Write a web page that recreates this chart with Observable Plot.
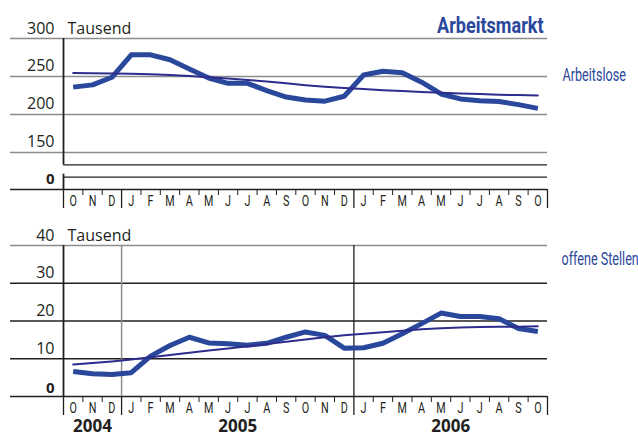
<!DOCTYPE html>
<html>
<head>
<meta charset="utf-8">
<script src="https://cdn.jsdelivr.net/npm/d3@7"></script>
<script src="https://cdn.jsdelivr.net/npm/@observablehq/plot@0.6"></script>
<style>
  body { margin: 0; background: #fff; width: 638px; height: 432px; overflow: hidden; }
  #chart svg { display: block; }
</style>
</head>
<body>
<div id="chart"></div>
<script>
// ---- data ----
const months = ["O","N","D","J","F","M","A","M","J","J","A","S","O","N","D","J","F","M","A","M","J","J","A","S","O"];
const startYear = 2004, startMonth = 9; // October 2004
const arbeitslose      = [236, 239, 249, 278.5, 278.5, 272, 260, 248, 241, 241, 231.5, 223, 219, 217.5, 224, 252, 257, 255, 242.5, 227, 220.5, 218, 217, 213, 208];
const arbeitsloseTrend = [254.5, 254.3, 254, 253.5, 253, 252, 250.5, 249, 247.5, 245.5, 243.5, 241, 238.5, 236.5, 235, 233.5, 232, 231, 229.5, 228.5, 227.5, 227, 226, 225.5, 225];
const offeneStellen      = [6.6, 6.0, 5.8, 6.3, 10.7, 13.5, 15.7, 14.2, 14.0, 13.6, 14.1, 15.7, 17.1, 16.2, 12.8, 12.9, 14.1, 16.6, 19.3, 22.1, 21.2, 21.2, 20.6, 18.0, 17.2];
const offeneStellenTrend = [8.5, 8.9, 9.3, 9.8, 10.4, 11.0, 11.6, 12.2, 12.7, 13.3, 13.9, 14.5, 15.1, 15.7, 16.2, 16.6, 17.0, 17.4, 17.8, 18.1, 18.3, 18.4, 18.5, 18.5, 18.6];
const topTicks = [150, 200, 250, 300];
const topBreak = [50, 100];          // axis-break lines inside the compressed 0..150 segment
const bottomTicks = [0, 10, 20, 30, 40];
const title = "Arbeitsmarkt";
const unit = "Tausend";
const labelTop = "Arbeitslose";
const labelBottom = "offene Stellen";

// ---- derived ----
const idx = d3.range(months.length);
const yearOf = i => startYear + Math.floor((startMonth + i) / 12);
const yearGroups = d3.groups(idx, yearOf).map(([y, is]) => ({year: String(y), center: d3.mean(is), first: is[0]}));
const innerBounds = yearGroups.slice(1).map(g => g.first - 0.5);
const allBounds = d3.range(-0.5, months.length, 1);
const longBounds = [-0.5, ...innerBounds, months.length - 0.5];
const shortBounds = allBounds.filter(b => !longBounds.includes(b));

// broken axis: values below 150 are compressed
const breakAt = 150, squeeze = 0.3246;
const compress = v => v >= breakAt ? v : breakAt - (breakAt - v) * squeeze;

const ink = "#231f20";
const grey = "#8c8c8c";
const blue = "#29479b";
const navy = "#2e2c8c";
const numFont = "'Open Sans', 'Liberation Sans', sans-serif";
const condFont = "Roboto, 'Liberation Sans', sans-serif";

const W = 638, mL = 63, mR = 91;

function monthAxis() {
  return [
    Plot.axisX({ticks: shortBounds, tickSize: 6, tickFormat: () => "", label: null, stroke: ink, strokeWidth: 1}),
    Plot.axisX({ticks: longBounds, tickSize: 19, tickFormat: () => "", label: null, stroke: ink, strokeWidth: 1.3}),
    Plot.text(idx, {x: d => d, text: d => months[d], frameAnchor: "bottom", lineAnchor: "top", dy: 6,
      fontSize: 15, fontFamily: condFont, fill: ink, ariaDescription: "month-label"})
  ];
}

const lineRow = (vals) => vals.map((v, i) => ({i, v}));

// ---- top panel ----
const topPlot = Plot.plot({
  width: W, height: 210,
  marginLeft: mL, marginRight: mR, marginTop: 38, marginBottom: 21,
  x: {domain: [-0.5, months.length - 0.5], axis: null, label: null},
  y: {domain: [compress(0), 300], transform: compress, axis: null, label: null},
  style: {overflow: "visible", background: "transparent"},
  marks: [
    Plot.ruleY(topTicks, {stroke: grey, strokeWidth: 1.6, insetLeft: -53}),
    Plot.ruleY(topBreak, {stroke: ink, strokeWidth: 1.3}),
    Plot.ruleY([0], {stroke: ink, strokeWidth: 1.3, insetLeft: -53}),
    Plot.ruleX([-0.5], {y1: 100, y2: 300, stroke: ink, strokeWidth: 1.8}),
    Plot.ruleX([-0.5], {y1: 0, y2: 62, stroke: ink, strokeWidth: 1.8}),
    ...monthAxis(),
    Plot.text(topTicks, {y: d => d, text: d => String(d), frameAnchor: "left", textAnchor: "end", lineAnchor: "bottom",
      dx: -9, dy: -5, fontSize: 16, fontFamily: numFont, fill: ink}),
    Plot.text([0], {y: d => d, text: d => String(d), frameAnchor: "left", textAnchor: "end", lineAnchor: "bottom",
      dx: -9, dy: -6, fontSize: 15, fontWeight: "bold", fontFamily: numFont, fill: ink}),
    Plot.text([300], {y: d => d, text: () => unit, frameAnchor: "left", textAnchor: "start", lineAnchor: "bottom",
      dx: 4, dy: -5, fontSize: 16, fontFamily: numFont, fill: ink}),
    Plot.text([title], {frameAnchor: "top-right", textAnchor: "end", lineAnchor: "bottom", dx: -4, dy: -6,
      fontSize: 21.5, fontWeight: "bold", fontFamily: condFont, fill: blue, ariaDescription: "title"}),
    Plot.text([250], {y: d => d, text: () => labelTop, frameAnchor: "right", textAnchor: "start", lineAnchor: "middle",
      dx: 15, dy: -1, fontSize: 18, fontFamily: condFont, fill: blue, ariaDescription: "series-label"}),
    Plot.line(lineRow(arbeitslose), {x: "i", y: "v", stroke: blue, strokeWidth: 5, strokeLinejoin: "round", strokeLinecap: "butt"}),
    Plot.line(lineRow(arbeitsloseTrend), {x: "i", y: "v", stroke: navy, strokeWidth: 2})
  ]
});

// ---- bottom panel ----
const bottomPlot = Plot.plot({
  width: W, height: 222,
  marginLeft: mL, marginRight: mR, marginTop: 35, marginBottom: 36,
  x: {domain: [-0.5, months.length - 0.5], axis: null, label: null},
  y: {domain: [0, 40], axis: null, label: null},
  style: {overflow: "visible", background: "transparent"},
  marks: [
    Plot.ruleY(bottomTicks.filter(d => d !== 40), {stroke: ink, strokeWidth: 1.3, insetLeft: -53}),
    Plot.ruleY([40], {stroke: grey, strokeWidth: 1.6, insetLeft: -53}),
    Plot.ruleX([innerBounds[0]], {stroke: grey, strokeWidth: 1.5}),
    Plot.ruleX(innerBounds.slice(1), {stroke: ink, strokeWidth: 1.3}),
    Plot.ruleX([-0.5], {stroke: ink, strokeWidth: 1.8}),
    ...monthAxis(),
    Plot.text(yearGroups, {x: "center", text: "year", frameAnchor: "bottom", lineAnchor: "bottom", dy: 35,
      fontSize: 17, fontWeight: "bold", fontFamily: numFont, fill: ink}),
    Plot.text(bottomTicks.filter(d => d !== 0), {y: d => d, text: d => String(d), frameAnchor: "left", textAnchor: "end", lineAnchor: "bottom",
      dx: -9, dy: -5, fontSize: 16, fontFamily: numFont, fill: ink}),
    Plot.text([0], {y: d => d, text: d => String(d), frameAnchor: "left", textAnchor: "end", lineAnchor: "bottom",
      dx: -9, dy: -4, fontSize: 15, fontWeight: "bold", fontFamily: numFont, fill: ink}),
    Plot.text([40], {y: d => d, text: () => unit, frameAnchor: "left", textAnchor: "start", lineAnchor: "bottom",
      dx: 4, dy: -5, fontSize: 16, fontFamily: numFont, fill: ink}),
    Plot.text([36.3], {y: d => d, text: () => labelBottom, frameAnchor: "right", textAnchor: "start", lineAnchor: "middle",
      dx: 14, fontSize: 18, fontFamily: condFont, fill: blue, ariaDescription: "series-label"}),
    Plot.line(lineRow(offeneStellen), {x: "i", y: "v", stroke: blue, strokeWidth: 5, strokeLinejoin: "round", strokeLinecap: "butt"}),
    Plot.line(lineRow(offeneStellenTrend), {x: "i", y: "v", stroke: navy, strokeWidth: 2})
  ]
});

const chart = document.getElementById("chart");
chart.appendChild(topPlot);
chart.appendChild(bottomPlot);

// condensed look (the original uses a condensed face): squeeze glyphs horizontally
const squeezeRatio = {"title": 0.84, "series-label": 0.7, "month-label": 0.72};
for (const [label, r] of Object.entries(squeezeRatio)) {
  chart.querySelectorAll(`g[aria-description="${label}"] text`).forEach(t => {
    const len = t.getComputedTextLength();
    t.setAttribute("textLength", (len * r).toFixed(1));
    t.setAttribute("lengthAdjust", "spacingAndGlyphs");
  });
}
</script>
</body>
</html>
